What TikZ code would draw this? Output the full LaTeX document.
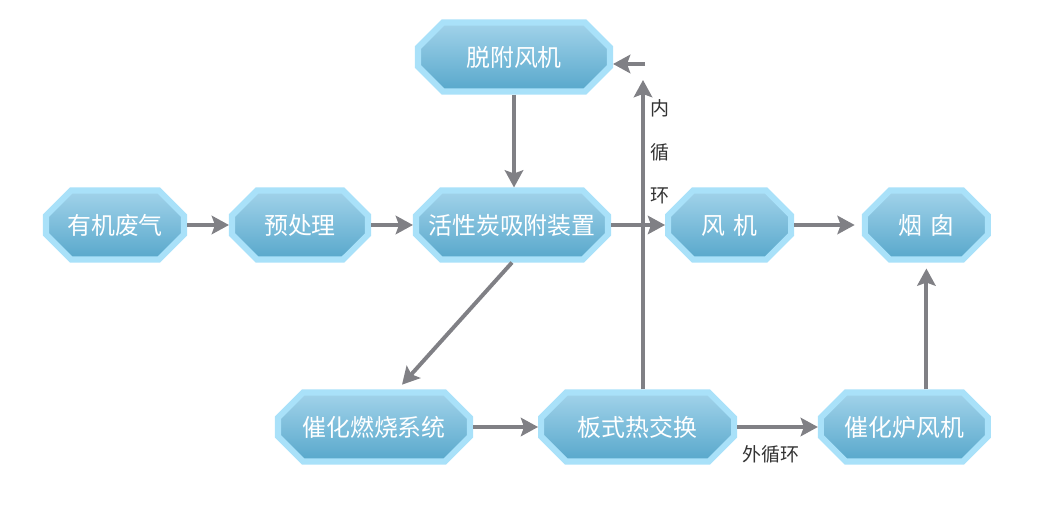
\documentclass[tikz,border=0pt]{standalone}
\usepackage{fontspec}
\setmainfont{Noto Sans CJK SC}
\usepackage{xcolor}
\usetikzlibrary{shapes.misc,arrows.meta,positioning,calc}

\definecolor{boxedge}{HTML}{A9E1F9}
\definecolor{boxtop}{HTML}{A2D3EA}
\definecolor{boxbot}{HTML}{57A7CB}
\definecolor{flowgray}{HTML}{808085}
\definecolor{labelgray}{HTML}{333333}

\begin{document}
\begin{tikzpicture}[
    unit/.style={chamfered rectangle, chamfered rectangle xsep=0.35cm, chamfered rectangle ysep=0.35cm,
        draw=boxedge, line width=4.3pt, top color=boxtop, bottom color=boxbot, text=white,
        minimum height=1.725cm, inner sep=0pt, font=\fontsize{17}{20}\selectfont},
    flow/.style={draw=flowgray, line width=2.8pt, -{Stealth[length=0.43cm, width=0.46cm, inset=0.08cm]}},
    note/.style={text=labelgray, font=\fontsize{13.5}{15}\selectfont}
]
    \useasboundingbox (0,0) rectangle (26.3,-12.675);

    \node[unit, minimum width=3.45cm] (feiqi) at (2.875,-5.625) {有机废气};
    \node[unit, minimum width=3.4cm] (yuchuli) at (7.5,-5.625) {预处理};
    \node[unit, minimum width=4.8cm] (huoxing) at (12.8,-5.625) {活性炭吸附装置};
    \node[unit, minimum width=4.8cm] (tuofu) at (12.85,-1.425) {脱附风机};
    \node[unit, minimum width=3.075cm] (fengji) at (18.24,-5.625) {风\,\,机};
    \node[unit, minimum width=3.075cm] (yancong) at (23.16,-5.625) {烟\,\,囱};
    \node[unit, minimum width=4.8cm] (ranshao) at (9.35,-10.675) {催化燃烧系统};
    \node[unit, minimum width=4.825cm] (banshi) at (15.94,-10.675) {板式热交换};
    \node[unit, minimum width=4.175cm] (luji) at (22.61,-10.675) {催化炉风机};

    \coordinate (neitop) at (16.075,-2.0);
    \coordinate (neistart) at (16.125,-1.6);

    \draw[flow] (feiqi) -- (yuchuli);
    \draw[flow] (yuchuli) -- (huoxing);
    \draw[flow] (tuofu.south) -- (tuofu.south |- huoxing.north);
    \draw[flow] (huoxing) -- (fengji);
    \draw[flow] (fengji) -- ([xshift=-0.18cm]yancong.west);
    \draw[flow] (huoxing.south) -- ([xshift=0.7cm,yshift=0.12cm]ranshao.north);
    \draw[flow] (ranshao) -- (banshi);
    \draw[flow] (banshi.north -| neitop) -- (neitop);
    \draw[flow] (neistart) -- (tuofu.east |- neistart);
    \draw[flow] (banshi) -- (luji) node[note, pos=0.42, below=0.3cm] (wai) {外循环};
    \draw[flow] (luji.north -| yancong.south) -- ([yshift=-0.15cm]yancong.south);

    \node[note, align=center, inner sep=0pt, font=\fontsize{13.5}{31}\selectfont] (nei) at (16.5,-3.8) {内\\循\\环};
\end{tikzpicture}
\end{document}
